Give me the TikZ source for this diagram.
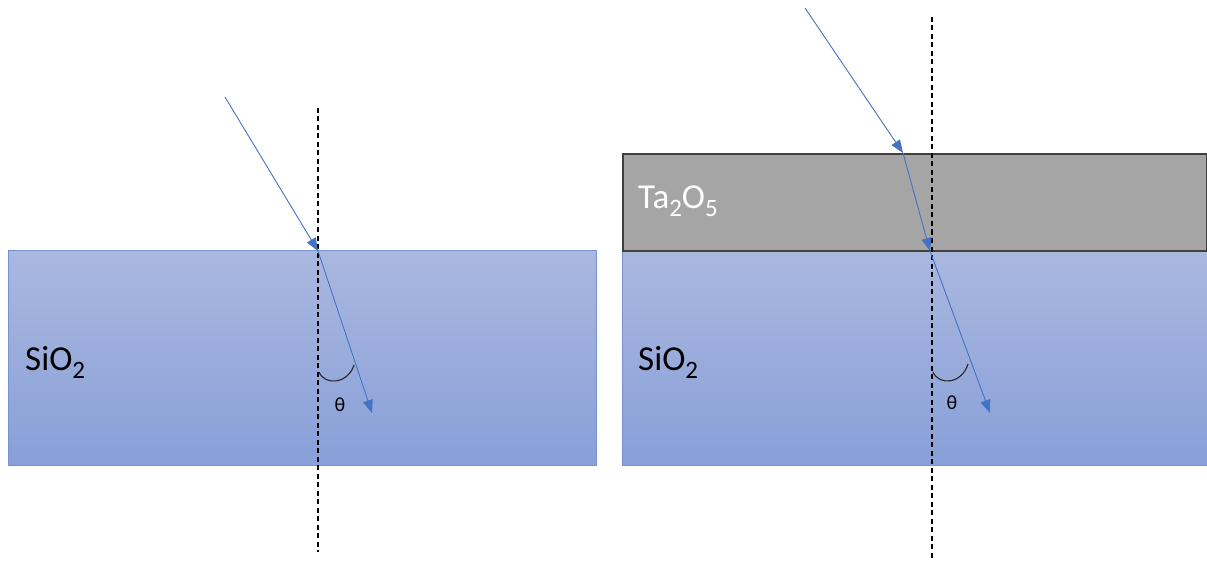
\documentclass[tikz,border=0pt]{standalone}
\usepackage{fontspec}
\setmainfont{Carlito}
\usetikzlibrary{arrows.meta, positioning, calc}
\definecolor{cRay}{RGB}{68,114,196}
\definecolor{cSiTop}{RGB}{170,184,223}
\definecolor{cSiBot}{RGB}{136,159,216}
\definecolor{cSiEdge}{RGB}{118,146,208}
\definecolor{cTa}{RGB}{165,165,165}
\definecolor{cTaEdge}{RGB}{64,64,64}
\newcommand{\chemsub}[1]{\raisebox{-8pt}{\fontsize{25}{25}\selectfont #1}}
\tikzset{
	sio/.style  ={rectangle, anchor=north west, inner sep=0pt, draw=cSiEdge, line width=0.8pt, top color=cSiTop, bottom color=cSiBot},
	tao/.style  ={rectangle, anchor=north west, inner sep=0pt, draw=cTaEdge, line width=1.6pt, fill=cTa},
	normal/.style={dash pattern=on 5pt off 3.5pt, line width=1.5pt, black},
	ray/.style  ={cRay, line width=0.9pt, -{Triangle[length=13pt, width=10pt]}},
	angarc/.style={line width=1.1pt, black!85},
	mat/.style  ={anchor=base west, inner sep=0pt, font=\fontsize{35}{37}\selectfont},
	ang/.style  ={font=\fontsize{20}{22}\selectfont},
}
\begin{document}
\begin{tikzpicture}[x=1pt, y=-1pt]
	\useasboundingbox (0,0) rectangle (1207,564);
	% left: bare substrate
	\node[sio, minimum width=588pt, minimum height=215pt] (subL) at (8,250) {};
	\node[mat] (labL) at (25,370) {SiO\chemsub{2}};
	\coordinate (topL) at (318,108);
	\coordinate (botL) at (318,552);
	\draw[normal] (topL) -- (botL);
	\coordinate (srcL) at (225,97);
	\coordinate (hitL) at (318,251);
	\coordinate (endL) at (372,413);
	\draw[ray] (srcL) -- (hitL);
	\draw[ray] (hitL) -- (endL);
	\draw[angarc] (319,372) .. controls (325,386) and (348,384) .. (354,365);
	\node[ang] (thL) at (340,405) {θ};
	% right: coated substrate
	\node[sio, minimum width=585pt, minimum height=215pt] (subR) at (622,250) {};
	\node[tao, minimum width=584pt, minimum height=97pt] (coatR) at (622,153) {};
	\node[mat] (labR) at (638,370) {SiO\chemsub{2}};
	\node[mat, white] (labT) at (638,209) {Ta\chemsub{2}O\chemsub{5}};
	\coordinate (topR) at (932,17);
	\coordinate (botR) at (932,560);
	\draw[normal] (topR) -- (botR);
	\coordinate (srcR) at (805,8);
	\coordinate (hitR) at (903,153);
	\coordinate (midR) at (930,251);
	\coordinate (endR) at (990,413);
	\draw[ray] (srcR) -- (hitR);
	\draw[ray] (hitR) -- (midR);
	\draw[ray] (midR) -- (endR);
	\draw[angarc] (933,372) .. controls (939,386) and (962,384) .. (968,364);
	\node[ang] (thR) at (952,403) {θ};
\end{tikzpicture}
\end{document}
